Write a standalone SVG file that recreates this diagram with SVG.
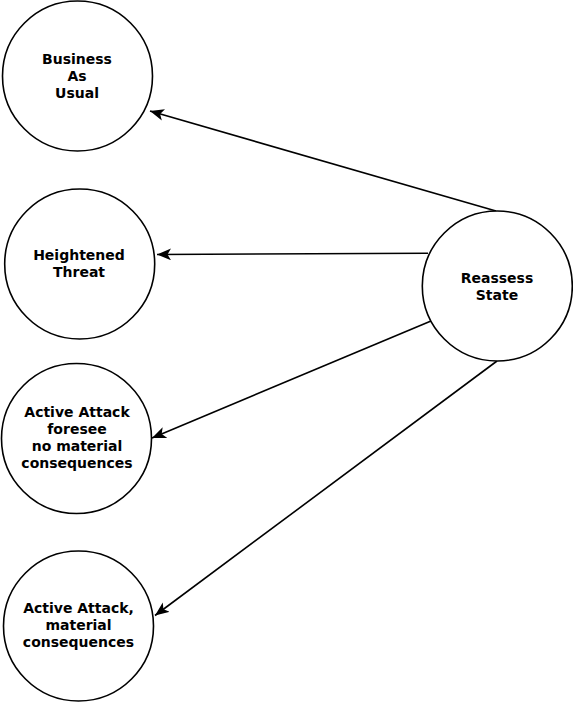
<svg xmlns="http://www.w3.org/2000/svg" width="573" height="702" viewBox="0 0 573 702">
<defs>
<style>
.node circle{fill:#fff;stroke:#000;stroke-width:1.6}
.node text{font-family:"DejaVu Sans",Verdana,sans-serif;font-weight:bold;font-size:14px;text-anchor:middle;fill:#000}
.edge{stroke:#000;stroke-width:1.6;fill:none;marker-end:url(#arrow)}
</style>
<marker id="arrow" viewBox="0 0 12 10" refX="12" refY="5" markerWidth="14" markerHeight="12" markerUnits="userSpaceOnUse" orient="auto">
<path d="M0,0 L12,5 L0,10 L3,5 Z" fill="#000"/>
</marker>
</defs>
<rect width="573" height="702" fill="#fff"/>
<g id="connectors">
<line class="edge" x1="496" y1="211" x2="150" y2="111"/>
<line class="edge" x1="428" y1="253.3" x2="157" y2="254.5"/>
<line class="edge" x1="431" y1="321" x2="152" y2="438"/>
<line class="edge" x1="497" y1="361" x2="155" y2="615.5"/>
</g>
<g id="business-as-usual" class="node">
<circle cx="77.5" cy="76" r="75"/>
<text x="77" y="64">Business</text>
<text x="77" y="81">As</text>
<text x="77" y="98">Usual</text>
</g>
<g id="heightened-threat" class="node">
<circle cx="79.7" cy="264" r="75"/>
<text x="79" y="260">Heightened</text>
<text x="79" y="277">Threat</text>
</g>
<g id="active-attack-foresee" class="node">
<circle cx="76.5" cy="438.5" r="75"/>
<text x="77" y="417">Active Attack</text>
<text x="77" y="434">foresee</text>
<text x="77" y="451">no material</text>
<text x="77" y="468">consequences</text>
</g>
<g id="active-attack-material" class="node">
<circle cx="78.5" cy="626" r="75"/>
<text x="78.5" y="613">Active Attack,</text>
<text x="78.5" y="630">material</text>
<text x="78.5" y="647">consequences</text>
</g>
<g id="reassess-state" class="node">
<circle cx="497.3" cy="286" r="75"/>
<text x="497" y="282.5">Reassess</text>
<text x="497" y="299.5">State</text>
</g>
</svg>
